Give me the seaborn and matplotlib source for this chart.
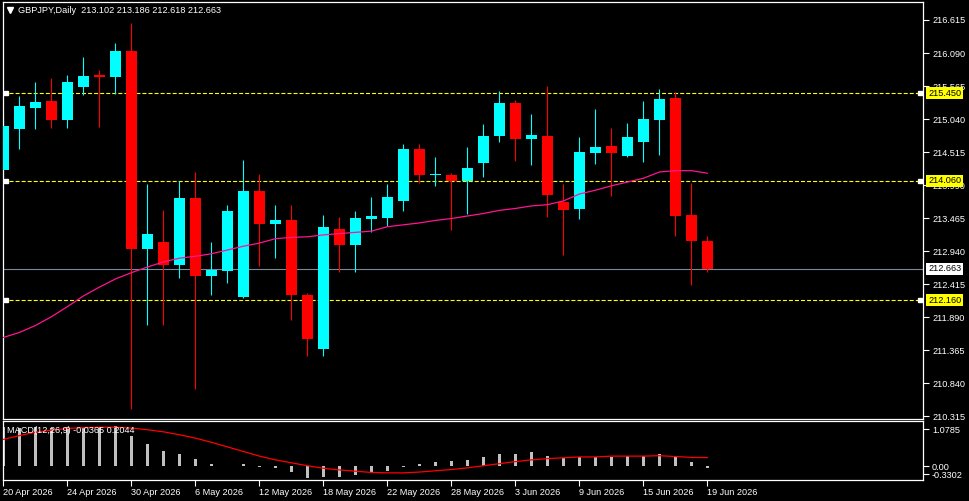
import numpy as np
import pandas as pd
import matplotlib
matplotlib.use("Agg")
import matplotlib.pyplot as plt
import seaborn as sns

# ---------------- data ----------------
symbol_title = "GBPJPY,Daily  213.102 213.186 212.618 212.663"
macd_title = "MACD(12,26,9) -0.0365 0.2044"

opens = [214.23, 214.89, 215.22, 215.33, 215.03, 215.55, 215.74, 215.71, 216.12, 212.98,
         213.09, 212.72, 213.79, 212.54, 212.63, 212.22, 213.90, 213.38, 213.44, 212.25,
         211.39, 213.29, 213.04, 213.45, 213.47, 213.74, 214.57, 214.15, 214.15, 214.06,
         214.34, 214.77, 215.30, 214.72, 214.77, 213.72, 213.61, 214.50, 214.61, 214.46,
         214.68, 215.03, 215.38, 213.52, 213.102]
highs = [215.08, 215.40, 215.63, 215.69, 215.74, 216.03, 215.82, 216.25, 216.57, 214.01,
         213.60, 214.05, 214.20, 213.09, 213.68, 214.39, 214.17, 213.68, 213.68, 212.28,
         213.52, 213.48, 213.58, 213.80, 214.01, 214.65, 214.65, 214.44, 214.18, 214.60,
         214.96, 215.49, 215.34, 215.12, 215.57, 214.01, 214.76, 215.20, 214.90, 214.98,
         215.33, 215.52, 215.47, 214.02, 213.186]
lows = [214.10, 214.56, 214.89, 214.90, 214.90, 215.42, 214.92, 215.44, 210.43, 211.77,
        211.76, 212.52, 210.75, 212.25, 212.43, 212.19, 212.71, 212.84, 211.85, 211.27,
        211.27, 212.61, 212.61, 213.25, 213.34, 213.58, 214.02, 213.97, 213.28, 213.53,
        214.12, 214.68, 214.37, 214.31, 213.48, 212.88, 213.45, 214.33, 213.82, 214.44,
        214.36, 214.47, 213.18, 212.40, 212.618]
closes = [214.93, 215.25, 215.31, 215.03, 215.63, 215.725, 215.71, 216.12, 212.98, 213.21,
          212.72, 213.79, 212.54, 212.64, 213.58, 213.90, 213.38, 213.44, 212.24, 211.54,
          213.33, 213.04, 213.47, 213.50, 213.80, 214.57, 214.15, 214.16, 214.06, 214.26,
          214.77, 215.30, 214.72, 214.79, 213.83, 213.60, 214.52, 214.60, 214.50, 214.76,
          215.04, 215.36, 213.50, 213.10, 212.663]
ma_values = [211.57, 211.65, 211.76, 211.90, 212.06, 212.23, 212.37, 212.50, 212.60, 212.69,
             212.77, 212.83, 212.86, 212.90, 212.96, 213.02, 213.07, 213.14, 213.16, 213.17,
             213.20, 213.22, 213.24, 213.26, 213.33, 213.36, 213.39, 213.43, 213.46, 213.50,
             213.54, 213.59, 213.62, 213.66, 213.68, 213.74, 213.85, 213.91, 213.98, 214.04,
             214.10, 214.20, 214.22, 214.22, 214.18]
macd_main = [0.93, 0.92, 0.93, 0.92, 0.93, 0.92, 0.93, 0.96, 0.73, 0.54,
             0.37, 0.30, 0.16, 0.04, 0.016, 0.04, -0.02, -0.05, -0.14, -0.29,
             -0.27, -0.25, -0.22, -0.17, -0.12, -0.02, 0.04, 0.10, 0.12, 0.14,
             0.21, 0.28, 0.30, 0.33, 0.25, 0.19, 0.21, 0.21, 0.21, 0.24,
             0.24, 0.30, 0.21, 0.09, -0.0365]
macd_signal = [0.64, 0.73, 0.81, 0.86, 0.90, 0.92, 0.93, 0.93, 0.91, 0.87,
               0.82, 0.75, 0.67, 0.57, 0.46, 0.35, 0.24, 0.15, 0.08, 0.01,
               -0.05, -0.09, -0.12, -0.15, -0.16, -0.16, -0.14, -0.11, -0.08, -0.04,
               0.01, 0.06, 0.11, 0.15, 0.18, 0.20, 0.22, 0.22, 0.24, 0.24,
               0.24, 0.25, 0.23, 0.21, 0.2044]

date_labels = ["20 Apr 2026", "24 Apr 2026", "30 Apr 2026", "6 May 2026", "12 May 2026",
               "18 May 2026", "22 May 2026", "28 May 2026", "3 Jun 2026", "9 Jun 2026",
               "15 Jun 2026", "19 Jun 2026"]
date_positions = [0, 4, 8, 12, 16, 20, 24, 28, 32, 36, 40, 44]

price_ticks = [216.615, 216.090, 215.565, 215.040, 214.515, 213.990, 213.465,
               212.940, 212.415, 211.890, 211.365, 210.840, 210.315]
level_lines = [215.450, 214.060, 212.160]
last_price = 212.663
macd_range = (-0.3302, 1.0785)
macd_tick_pos = [0.887, 0.0, -0.187]
macd_tick_labels = ["1.0785", "0.00", "-0.3302"]

# ---------------- style ----------------
sns.set_theme(style="dark", rc={"axes.facecolor": "black", "figure.facecolor": "black",
                                "savefig.facecolor": "black", "axes.edgecolor": "white",
                                "text.color": "white", "xtick.color": "white",
                                "ytick.color": "white", "axes.grid": False})
plt.rcParams['font.family'] = ['Liberation Sans', 'DejaVu Sans']
plt.rcParams['lines.scale_dashes'] = False

W, H = 970, 501
fig = plt.figure(figsize=(W / 100, H / 100), dpi=100, facecolor='black')
ax = fig.add_axes([3 / W, 1 - 419 / H, 920 / W, 417 / H])
ax2 = fig.add_axes([3 / W, 1 - 480 / H, 920 / W, 59 / H])

idx = np.arange(len(opens))
df = pd.DataFrame({"i": idx, "open": opens, "high": highs, "low": lows, "close": closes,
                   "ma": ma_values, "macd": macd_main, "signal": macd_signal})
bull = df["close"] > df["open"]
colors = np.where(bull, "#00FFFF", "#FF0000")
body_bottom = np.minimum(df["open"], df["close"])
body_h = np.maximum(np.abs(df["close"] - df["open"]), 0.014)

fs = 6.6
# ---------------- main panel ----------------
for ln in level_lines:
    ax.axhline(ln, color="#FFFF00", lw=0.8, ls=(0, (2.9, 1.45)), zorder=1)
ax.axhline(last_price, color="#778899", lw=0.8, zorder=1)

ax.vlines(df["i"], df["low"], df["high"], colors=colors, lw=0.8, zorder=2)
ax.bar(df["i"], body_h, bottom=body_bottom, width=0.69, color=colors, linewidth=0, zorder=3)
sns.lineplot(data=df, x="i", y="ma", ax=ax, color="#FF1493", lw=0.9, zorder=4)

ax.set_xlim(-0.03, 57.47)
ax.set_ylim(210.274, 216.901)
ax.set_xlabel("")
ax.set_ylabel("")
ax.set_xticks([])
ax.yaxis.tick_right()
ax.set_yticks(price_ticks, labels=[f"{v:.3f}" for v in price_ticks])
ax.tick_params(axis="y", colors="white", length=4, width=0.8, pad=2.5, labelsize=fs,
               direction="out")
for s in ax.spines.values():
    s.set_color("white")
    s.set_linewidth(0.9)

ytr = ax.get_yaxis_transform()
for ln in level_lines:
    ax.text(1.0055, ln, f"{ln:.3f}", transform=ytr, ha="left", va="center", color="black",
            fontsize=fs, zorder=10, clip_on=False,
            bbox=dict(boxstyle="square,pad=0.18", fc="#FFFF00", ec="none"))
    ax.plot([0.003], [ln], transform=ytr, marker="s", ms=2.5, color="white", clip_on=False,
            zorder=6)
    ax.plot([0.997], [ln], transform=ytr, marker="s", ms=2.5, color="white", clip_on=False,
            zorder=6)
ax.text(1.0055, last_price, f"{last_price:.3f}", transform=ytr, ha="left", va="center",
        color="black", fontsize=fs, zorder=10, clip_on=False,
        bbox=dict(boxstyle="square,pad=0.18", fc="white", ec="none"))

fig.text(18 / W, 1 - 10.5 / H, symbol_title, color="white", fontsize=fs, ha="left",
         va="center")
fig.lines.append(plt.Line2D([9.7 / W], [1 - 10.3 / H], transform=fig.transFigure,
                            marker="v", ms=4, color="white", ls="none"))

# ---------------- MACD panel ----------------
sns.barplot(data=df, x="i", y="macd", ax=ax2, native_scale=True, width=0.2,
            color="#C0C0C0", saturation=1, linewidth=0, errorbar=None, zorder=2)
sns.lineplot(data=df, x="i", y="signal", ax=ax2, color="#FF0000", lw=0.9, zorder=3)
ax2.set_xlim(-0.03, 57.47)
ax2.set_ylim(*macd_range)
ax2.set_xlabel("")
ax2.set_ylabel("")
ax2.yaxis.tick_right()
ax2.set_yticks(macd_tick_pos, labels=macd_tick_labels)
ax2.tick_params(axis="y", colors="white", length=4, width=0.8, pad=2.5, labelsize=fs)
ax2.set_xticks(date_positions, labels=date_labels)
ax2.tick_params(axis="x", colors="white", length=4, width=0.8, pad=1.5, labelsize=fs,
                bottom=True)
for lab in ax2.get_xticklabels():
    lab.set_ha("left")
for s in ax2.spines.values():
    s.set_color("white")
    s.set_linewidth(0.9)
ax2.text(7 / W, 1 - 430.5 / H, macd_title, transform=fig.transFigure, color="white",
         fontsize=fs, ha="left", va="center", zorder=10)

fig.savefig("out.png", dpi=100, facecolor="black")
